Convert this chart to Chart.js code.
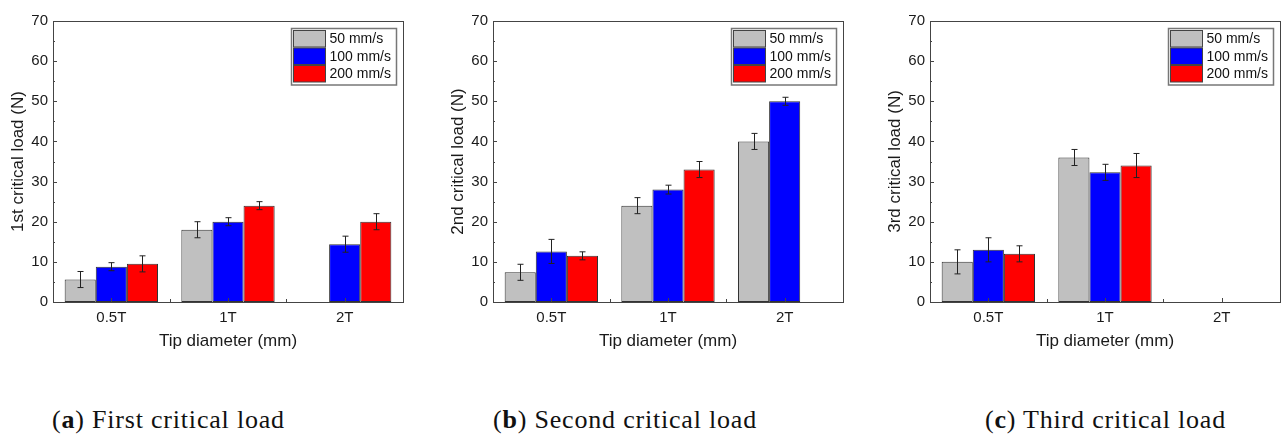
<!DOCTYPE html>
<html>
<head>
<meta charset="utf-8">
<script src="https://cdn.jsdelivr.net/npm/chart.js@4.4.1/dist/chart.umd.min.js"></script>
<style>
  body { margin: 0; background: #fff; width: 1282px; height: 434px; position: relative; overflow: hidden; }
  .panel { position: absolute; top: 0; height: 360px; }
  .cap { position: absolute; top: 407px; font-family: 'Liberation Serif', 'Times New Roman', serif; font-size: 26px; line-height: 26px; letter-spacing: 0.8px; color: #111; white-space: nowrap; }
</style>
</head>
<body>
<div class="panel" id="p1" style="left:0;width:420px"><canvas id="c1"></canvas></div>
<div class="panel" id="p2" style="left:440px;width:420px"><canvas id="c2"></canvas></div>
<div class="panel" id="p3" style="left:877px;width:405px"><canvas id="c3"></canvas></div>
<div class="cap" style="left:52px">(<b>a</b>) First critical load</div>
<div class="cap" style="left:493px">(<b>b</b>) Second critical load</div>
<div class="cap" style="left:985px">(<b>c</b>) Third critical load</div>

<script>
// Data
const categories = ['0.5T', '1T', '2T'];
const speedLabels = ['50 mm/s', '100 mm/s', '200 mm/s'];
const speedColors = ['#c0c0c0', '#0000ff', '#ff0000'];

const first50 = [5.6, 18, null];
const first100 = [8.8, 20, 14.4];
const first200 = [9.5, 24, 20];
const first50Err = [2, 2, null];
const first100Err = [1, 1, 2];
const first200Err = [2, 1, 2];

const second50 = [7.4, 24, 40];
const second100 = [12.6, 28, 50];
const second200 = [11.5, 33, null];
const second50Err = [2, 2, 2];
const second100Err = [3, 1.1, 1];
const second200Err = [1, 2, null];

const third50 = [10, 36, null];
const third100 = [13, 32.3, null];
const third200 = [12, 34, null];
const third50Err = [3, 2, null];
const third100Err = [3, 2, null];
const third200Err = [2, 3, null];

const yTicks = [0, 10, 20, 30, 40, 50, 60, 70];

const FONT = "'Liberation Sans', Arial, sans-serif";
const AXIS_COLOR = '#444';

/**
 * Draws error bars, inward ticks, the plot frame and the inset legend
 */
const decorPlugin = {
  id: 'decor',
  afterDatasetsDraw(chart) {
    const ctx = chart.ctx;
    const y = chart.scales.y;
    ctx.save();
    ctx.strokeStyle = '#222';
    ctx.lineWidth = 1;
    chart.data.datasets.forEach((ds, di) => {
      const meta = chart.getDatasetMeta(di);
      ds.errors.forEach((err, i) => {
        const v = ds.data[i];
        if (v == null || err == null) return;
        const x = Math.round(meta.data[i].x) + 0.5;
        const top = y.getPixelForValue(v + err);
        const bot = y.getPixelForValue(v - err);
        ctx.beginPath();
        ctx.moveTo(x, top); ctx.lineTo(x, bot);
        ctx.moveTo(x - 3, top); ctx.lineTo(x + 3, top);
        ctx.moveTo(x - 3, bot); ctx.lineTo(x + 3, bot);
        ctx.stroke();
      });
    });
    ctx.restore();
  },
  afterDraw(chart) {
    const ctx = chart.ctx;
    const a = chart.chartArea;
    const y = chart.scales.y;
    const x = chart.scales.x;
    ctx.save();
    ctx.strokeStyle = AXIS_COLOR;
    ctx.lineWidth = 1;
    // frame
    ctx.strokeRect(Math.round(a.left) + 0.5, Math.round(a.top) + 0.5, Math.round(a.right - a.left), Math.round(a.bottom - a.top));
    // y ticks (major + minor), inward
    ctx.beginPath();
    for (let v = 0; v <= 70; v += 5) {
      const py = Math.round(y.getPixelForValue(v)) + 0.5;
      const len = v % 10 === 0 ? 4 : 2;
      ctx.moveTo(a.left, py); ctx.lineTo(a.left + len, py);
    }
    // x ticks at category centers and boundaries
    categories.forEach((c, i) => {
      const px = Math.round(x.getPixelForValue(i)) + 0.5;
      ctx.moveTo(px, a.bottom); ctx.lineTo(px, a.bottom - 4);
      if (i > 0) {
        const bx = Math.round(x.getPixelForValue(i - 0.5)) + 0.5;
        ctx.moveTo(bx, a.bottom); ctx.lineTo(bx, a.bottom - 3);
      }
    });
    ctx.stroke();

    // legend box
    const boxW = 105, rowH = 17.5;
    const bx = Math.round(a.right - 7 - boxW) + 0.5;
    const by = Math.round(a.top + 7) + 0.5;
    ctx.fillStyle = '#fff';
    ctx.fillRect(bx, by, boxW, rowH * 3 + 4);
    ctx.strokeStyle = '#777';
    ctx.lineWidth = 1.5;
    ctx.strokeRect(bx, by, boxW, rowH * 3 + 4);
    ctx.lineWidth = 1;
    ctx.font = '14px ' + FONT;
    ctx.textBaseline = 'middle';
    speedLabels.forEach((lab, i) => {
      const sy = by + 2 + i * rowH;
      ctx.fillStyle = speedColors[i];
      ctx.fillRect(bx + 2, sy, 32, rowH - 1);
      ctx.strokeStyle = '#444';
      ctx.strokeRect(bx + 2, sy, 32, rowH - 1);
      ctx.fillStyle = '#111';
      ctx.fillText(lab, bx + 38, sy + rowH / 2);
    });
    ctx.restore();
  }
};

function makeChart(canvasId, yTitle, series, errors) {
  const datasets = series.map((data, i) => ({
    label: speedLabels[i],
    data: data,
    errors: errors[i],
    backgroundColor: speedColors[i],
    borderColor: '#333',
    borderWidth: 1,
    borderSkipped: false,
    barPercentage: 1.0,
    categoryPercentage: 0.8
  }));

  return new Chart(document.getElementById(canvasId), {
    type: 'bar',
    data: { labels: categories, datasets: datasets },
    options: {
      responsive: true,
      maintainAspectRatio: false,
      animation: false,
      layout: { padding: { top: 21, right: canvasId === 'c3' ? 2 : 17, left: 0, bottom: 0 } },
      plugins: {
        legend: { display: false },
        tooltip: { enabled: false }
      },
      scales: {
        x: {
          grid: { display: false, drawTicks: false },
          border: { display: false },
          ticks: { font: { family: FONT, size: 15 }, color: '#1a1a1a', padding: 7 },
          title: { display: true, text: 'Tip diameter (mm)', font: { family: FONT, size: 17 }, color: '#1a1a1a', padding: { top: 0, bottom: 8 } },
          afterFit: (s) => { s.height = 58; }
        },
        y: {
          min: 0,
          max: 70,
          afterBuildTicks: (s) => { s.ticks = yTicks.map(v => ({ value: v })); },
          grid: { display: false, drawTicks: false },
          border: { display: false },
          ticks: { font: { family: FONT, size: 15 }, color: '#1a1a1a', padding: 5 },
          title: { display: true, text: yTitle, font: { family: FONT, size: 17 }, color: '#1a1a1a', padding: { top: 8, bottom: 0 } },
          afterFit: (s) => { s.width = 53; }
        }
      }
    },
    plugins: [decorPlugin]
  });
}

makeChart('c1', '1st critical load (N)', [first50, first100, first200], [first50Err, first100Err, first200Err]);
makeChart('c2', '2nd critical load (N)', [second50, second100, second200], [second50Err, second100Err, second200Err]);
makeChart('c3', '3rd critical load (N)', [third50, third100, third200], [third50Err, third100Err, third200Err]);
</script>
</body>
</html>
